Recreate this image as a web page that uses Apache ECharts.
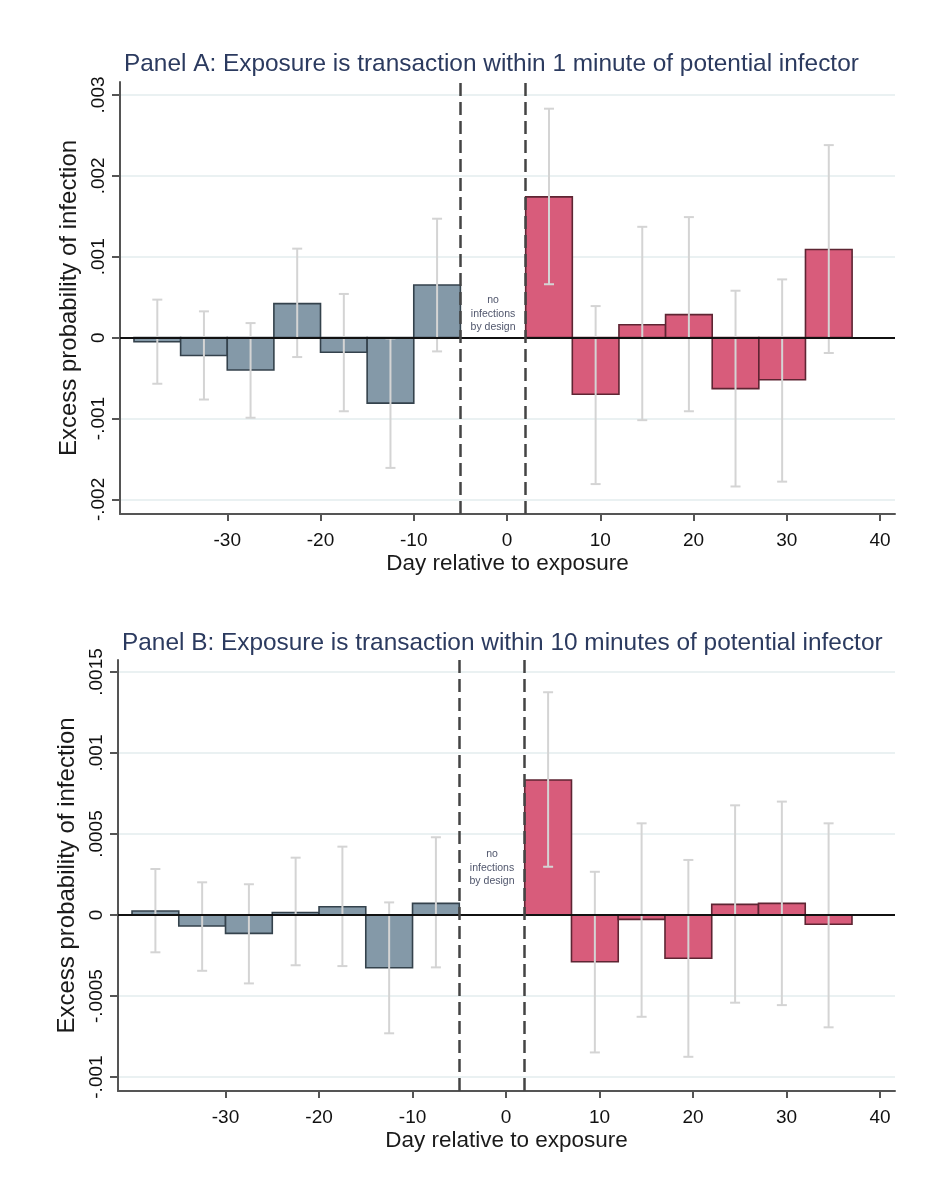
<!DOCTYPE html>
<html>
<head>
<meta charset="utf-8">
<script src="https://cdn.jsdelivr.net/npm/echarts@6/dist/echarts.min.js"></script>
<style>
html,body{margin:0;padding:0;background:#fff;}
#chart{width:926px;height:1198px;}
</style>
</head>
<body>
<div id="chart"></div>
<script>
// Centres of the 5-day bins before and after the exposure day
const preDays  = [-37.5, -32.5, -27.5, -22.5, -17.5, -12.5, -7.5];
const postDays = [4.5, 9.5, 14.5, 19.5, 24.5, 29.5, 34.5];
const binWidth = 5;

// Panel A: exposure within 1 minute
const aPre    = [-0.00005, -0.00022, -0.0004, 0.00042, -0.00018, -0.00081, 0.00065];
const aPreLo  = [-0.00057, -0.000765, -0.00099, -0.00024, -0.00091, -0.00161, -0.00017];
const aPreHi  = [0.00047, 0.000325, 0.00018, 0.0011, 0.00054, -0.00001, 0.00147];
const aPost   = [0.00174, -0.0007, 0.00016, 0.000284, -0.00063, -0.00052, 0.00109];
const aPostLo = [0.00066, -0.00181, -0.00102, -0.00091, -0.00184, -0.00178, -0.00019];
const aPostHi = [0.00283, 0.00039, 0.00137, 0.00149, 0.00058, 0.00072, 0.00238];

// Panel B: exposure within 10 minutes
const bPre    = [0.000025, -0.000068, -0.000113, 0.000016, 0.000051, -0.000325, 0.000072];
const bPreLo  = [-0.00023, -0.000344, -0.000422, -0.00031, -0.000315, -0.00073, -0.000323];
const bPreHi  = [0.000284, 0.000202, 0.00019, 0.000354, 0.000422, 0.000078, 0.00048];
const bPost   = [0.000833, -0.000288, -0.000027, -0.000267, 0.000066, 0.000072, -0.000057];
const bPostLo = [0.000298, -0.000848, -0.000628, -0.000875, -0.000541, -0.000556, -0.000693];
const bPostHi = [0.001375, 0.000267, 0.000566, 0.00034, 0.000677, 0.0007, 0.000566];

// Axis ticks and the excluded window around exposure
const xTicks  = [-30, -20, -10, 0, 10, 20, 30, 40];
const aYTicks = [-0.002, -0.001, 0, 0.001, 0.002, 0.003];
const bYTicks = [-0.001, -0.0005, 0, 0.0005, 0.001, 0.0015];
const windowStart = -5, windowEnd = 2;

const titles = [
  'Panel A: Exposure is transaction within 1 minute of potential infector',
  'Panel B: Exposure is transaction within 10 minutes of potential infector'
];
const noteText = 'no\ninfections\nby design';

const FONT = '"Liberation Sans", Arial, Helvetica, sans-serif';
const GREY_FILL = '#8499a8', GREY_EDGE = '#34424c';
const RED_FILL = '#d85c7b', RED_EDGE = '#5e2533';
const AXIS_COL = '#555555';

function stataNum(v) {
  if (v === 0) return '0';
  return String(+v.toPrecision(6)).replace(/^(-?)0\./, '$1.');
}

function pairs(days, vals) { return days.map((d, i) => [d, vals[i]]); }
function triples(days, lo, hi) { return days.map((d, i) => [d, lo[i], hi[i]]); }

function barRenderer(fill, edge) {
  return function (params, api) {
    const c = api.value(0), v = api.value(1);
    const p0 = api.coord([c - binWidth / 2, 0]);
    const p1 = api.coord([c + binWidth / 2, v]);
    return {
      type: 'rect',
      shape: {
        x: Math.min(p0[0], p1[0]), y: Math.min(p0[1], p1[1]),
        width: Math.abs(p1[0] - p0[0]), height: Math.abs(p1[1] - p0[1])
      },
      style: { fill: fill, stroke: edge, lineWidth: 1.6 }
    };
  };
}

function errRenderer(params, api) {
  const c = api.value(0);
  const lo = api.coord([c, api.value(1)]);
  const hi = api.coord([c, api.value(2)]);
  const w = 5;
  const st = { stroke: '#d4d4d4', lineWidth: 2 };
  return {
    type: 'group',
    children: [
      { type: 'line', shape: { x1: lo[0], y1: lo[1], x2: hi[0], y2: hi[1] }, style: st },
      { type: 'line', shape: { x1: lo[0] - w, y1: lo[1], x2: lo[0] + w, y2: lo[1] }, style: st },
      { type: 'line', shape: { x1: hi[0] - w, y1: hi[1], x2: hi[0] + w, y2: hi[1] }, style: st }
    ]
  };
}

function noteRenderer(params, api) {
  const p = api.coord([api.value(0), api.value(1)]);
  return {
    type: 'text',
    x: p[0], y: p[1],
    style: {
      text: noteText, align: 'center', verticalAlign: 'middle',
      font: '10.5px ' + FONT, lineHeight: 13.5, fill: '#50566c',
      backgroundColor: '#ffffff', padding: [1, 2]
    }
  };
}

function xAxisFor(idx) {
  return {
    type: 'value', gridIndex: idx, min: -41.5, max: 41.6,
    axisLine: { show: true, onZero: false, lineStyle: { color: AXIS_COL, width: 2 } },
    axisTick: { show: true, customValues: xTicks, length: 7, lineStyle: { color: AXIS_COL, width: 2 } },
    axisLabel: { customValues: xTicks, fontSize: 19, color: '#111', margin: 17, fontFamily: FONT },
    splitLine: { show: false },
    name: 'Day relative to exposure', nameLocation: 'middle', nameGap: 38,
    nameTextStyle: { fontSize: 22.5, color: '#1a1a1a', fontFamily: FONT }
  };
}

function yAxisFor(idx, min, max, ticks) {
  return {
    type: 'value', gridIndex: idx, min: min, max: max,
    axisLine: { show: true, onZero: false, lineStyle: { color: AXIS_COL, width: 2 } },
    axisTick: { show: true, customValues: ticks, length: 8, lineStyle: { color: AXIS_COL, width: 2 } },
    axisLabel: { customValues: ticks, rotate: 90, fontSize: 19, color: '#111', margin: 12,
                 fontFamily: FONT, formatter: stataNum },
    splitLine: { show: true, lineStyle: { color: '#e3ecee', width: 1.5 } },
    name: 'Excess probability of infection', nameLocation: 'middle', nameGap: 38,
    nameTextStyle: { fontSize: 24, color: '#1a1a1a', fontFamily: FONT }
  };
}

function panelSeries(idx, pre, preLo, preHi, post, postLo, postHi, noteY) {
  return [
    { type: 'custom', xAxisIndex: idx, yAxisIndex: idx, z: 2,
      renderItem: barRenderer(GREY_FILL, GREY_EDGE), data: pairs(preDays, pre) },
    { type: 'custom', xAxisIndex: idx, yAxisIndex: idx, z: 2,
      renderItem: barRenderer(RED_FILL, RED_EDGE), data: pairs(postDays, post) },
    { type: 'custom', xAxisIndex: idx, yAxisIndex: idx, z: 3,
      renderItem: errRenderer, data: triples(preDays, preLo, preHi).concat(triples(postDays, postLo, postHi)) },
    { type: 'line', xAxisIndex: idx, yAxisIndex: idx, z: 4, data: [], silent: true,
      markLine: {
        silent: true, symbol: ['none', 'none'], label: { show: false },
        data: [
          { yAxis: 0, lineStyle: { color: '#111', width: 2, type: 'solid' } },
          { xAxis: windowStart, lineStyle: { color: '#444', width: 2.5, type: [13, 6] } },
          { xAxis: windowEnd, lineStyle: { color: '#444', width: 2.5, type: [13, 6] } }
        ]
      } },
    { type: 'custom', xAxisIndex: idx, yAxisIndex: idx, z: 5,
      renderItem: noteRenderer, data: [[(windowStart + windowEnd) / 2, noteY]] }
  ];
}

const chart = echarts.init(document.getElementById('chart'), null, { renderer: 'canvas' });
chart.setOption({
  backgroundColor: '#ffffff',
  animation: false,
  textStyle: { fontFamily: FONT },
  graphic: [
    { type: 'text', left: 124, top: 52, style: { text: titles[0], font: '24.4px ' + FONT, fill: '#2b3a5f' } },
    { type: 'text', left: 122, top: 631, style: { text: titles[1], font: '24.4px ' + FONT, fill: '#2b3a5f' } }
  ],
  grid: [
    { left: 120, width: 775, top: 82, height: 432 },
    { left: 118, width: 777, top: 660, height: 431 }
  ],
  xAxis: [xAxisFor(0), xAxisFor(1)],
  yAxis: [
    yAxisFor(0, -0.00218, 0.00316, aYTicks),
    yAxisFor(1, -0.001086, 0.001574, bYTicks)
  ],
  series: [].concat(
    panelSeries(0, aPre, aPreLo, aPreHi, aPost, aPostLo, aPostHi, 0.000296),
    panelSeries(1, bPre, bPreLo, bPreHi, bPost, bPostLo, bPostHi, 0.00029)
  )
});
</script>
</body>
</html>
